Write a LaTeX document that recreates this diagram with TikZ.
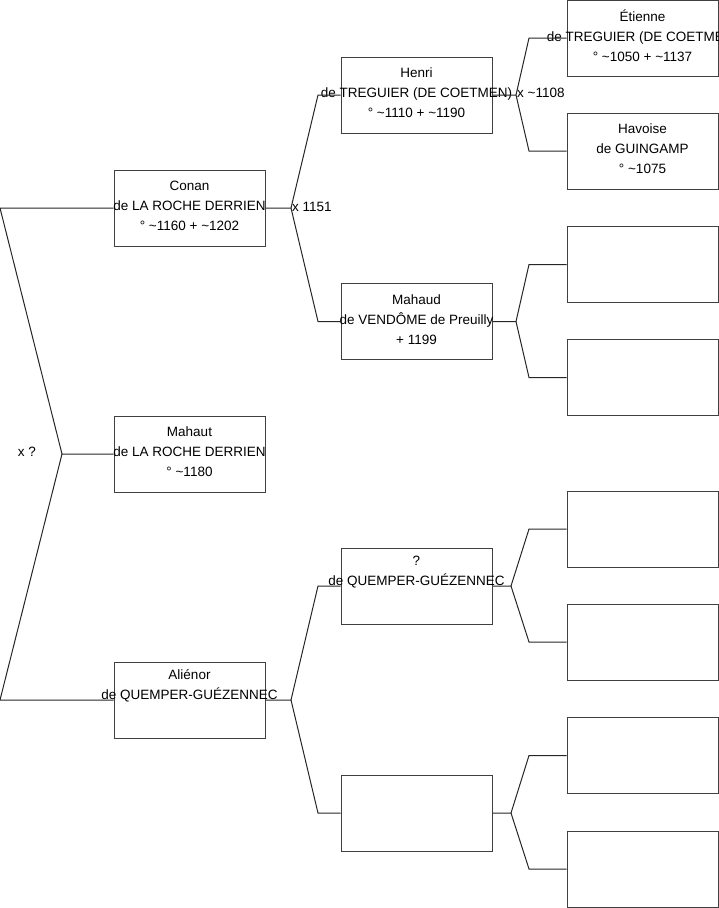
\documentclass[tikz,border=0pt]{standalone}
\usepackage{fontspec}
\setmainfont{Liberation Sans}
\begin{document}
\begin{tikzpicture}[x=1pt,y=-1pt,
  pbox/.style={draw=black!75,line width=1pt,minimum width=151pt,minimum height=76pt,inner sep=0pt},
  ptxt/.style={align=center,inner sep=0pt,font=\fontsize{13.5}{20}\selectfont},
  lbl/.style={inner sep=0pt,font=\fontsize{13.5}{16}\selectfont},
  conn/.style={draw=black!85,line width=1pt}]
\useasboundingbox (0,0) rectangle (719,908);
% boxes
\node[pbox] (conan) at (189.5,208) {};
\node[pbox] (mahaut) at (189.5,454) {};
\node[pbox] (alienor) at (189.5,700) {};
\node[pbox] (henri) at (416.5,95) {};
\node[pbox] (mahaud) at (416.5,321.5) {};
\node[pbox] (quemper) at (416.5,586) {};
\node[pbox] (bempty) at (416.5,813) {};
\node[pbox] (etienne) at (642.5,38) {};
\node[pbox] (havoise) at (642.5,151) {};
\node[pbox] (c3) at (642.5,264.5) {};
\node[pbox] (c4) at (642.5,377.5) {};
\node[pbox] (c5) at (642.5,529) {};
\node[pbox] (c6) at (642.5,642) {};
\node[pbox] (c7) at (642.5,755.5) {};
\node[pbox] (c8) at (642.5,869) {};
% texts
\node[ptxt] (conan-t) at (189.5,206) {Conan\\de LA ROCHE DERRIEN\\° \textasciitilde1160 + \textasciitilde1202};
\node[ptxt] (mahaut-t) at (189.5,452) {Mahaut\\de LA ROCHE DERRIEN\\° \textasciitilde1180};
\node[ptxt] (alienor-t) at (189.5,698) {Aliénor\\de QUEMPER-GUÉZENNEC\\\strut};
\node[ptxt] (henri-t) at (416.5,93) {Henri\\de TREGUIER (DE COETMEN)\\° \textasciitilde1110 + \textasciitilde1190};
\node[ptxt] (mahaud-t) at (416.5,319.5) {Mahaud\\de VENDÔME de Preuilly\\+ 1199};
\node[ptxt] (quemper-t) at (416.5,584) {?\\de QUEMPER-GUÉZENNEC\\\strut};
\node[ptxt] (etienne-t) at (642.5,36) {Étienne\\de TREGUIER (DE COETMEN)\\° \textasciitilde1050 + \textasciitilde1137};
\node[ptxt] (havoise-t) at (642.5,149) {Havoise\\de GUINGAMP\\° \textasciitilde1075};
% fork points
\coordinate (r1) at (0,208);
\coordinate (r2) at (62,454);
\coordinate (r3) at (0,700);
\coordinate (f1) at (291,208);
\coordinate (f1a) at (318,95);
\coordinate (f1b) at (318,321.5);
\coordinate (f2) at (291,700);
\coordinate (f2a) at (318,586);
\coordinate (f2b) at (318,813);
\coordinate (g1) at (516,95);
\coordinate (g1a) at (529,38);
\coordinate (g1b) at (529,151);
\coordinate (g2) at (516,321.5);
\coordinate (g2a) at (529,264.5);
\coordinate (g2b) at (529,377.5);
\coordinate (g3) at (511,586);
\coordinate (g3a) at (529,529);
\coordinate (g3b) at (529,642);
\coordinate (g4) at (511,813);
\coordinate (g4a) at (529,755.5);
\coordinate (g4b) at (529,869);
% connectors
\draw[conn] (conan.west) -- (r1) -- (r2) -- (mahaut.west);
\draw[conn] (r2) -- (r3) -- (alienor.west);
\draw[conn] (conan.east) -- (f1) -- (f1a) -- (henri.west);
\draw[conn] (f1) -- (f1b) -- (mahaud.west);
\draw[conn] (alienor.east) -- (f2) -- (f2a) -- (quemper.west);
\draw[conn] (f2) -- (f2b) -- (bempty.west);
\draw[conn] (henri.east) -- (g1) -- (g1a) -- (etienne.west);
\draw[conn] (g1) -- (g1b) -- (havoise.west);
\draw[conn] (mahaud.east) -- (g2) -- (g2a) -- (c3.west);
\draw[conn] (g2) -- (g2b) -- (c4.west);
\draw[conn] (quemper.east) -- (g3) -- (g3a) -- (c5.west);
\draw[conn] (g3) -- (g3b) -- (c6.west);
\draw[conn] (bempty.east) -- (g4) -- (g4a) -- (c7.west);
\draw[conn] (g4) -- (g4b) -- (c8.west);
% labels
\node[lbl,anchor=west] (x1151) at (292,207) {x 1151};
\node[lbl,anchor=west] (x1108) at (517,93) {x \textasciitilde1108};
\node[lbl] (xq) at (27,452) {x ?};
\end{tikzpicture}
\end{document}
